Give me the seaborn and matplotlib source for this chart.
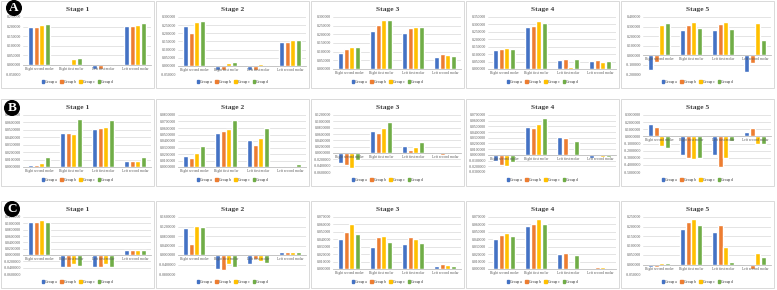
import numpy as np
import pandas as pd
import matplotlib.pyplot as plt
import seaborn as sns
from matplotlib.patches import Rectangle, Patch
from matplotlib.ticker import FuncFormatter

molars = ["Right second molar", "Right first molar", "Left first molar", "Left second molar"]
groups = ["Group a", "Group b", "Group c", "Group d"]
colors = ["#4472C4", "#ED7D31", "#FFC000", "#70AD47"]

# one list per group (a, b, c, d), values in molar order
A_stage1 = [[0.196, 0.000, -0.022, 0.205], [0.196, 0.000, -0.022, 0.205],
            [0.209, 0.030, 0.002, 0.206], [0.211, 0.035, 0.002, 0.216]]
A_stage2 = [[0.244, -0.026, -0.026, 0.148], [0.202, -0.026, -0.026, 0.148],
            [0.270, 0.016, 0.012, 0.160], [0.274, 0.024, 0.008, 0.160]]
A_stage3 = [[0.094, 0.217, 0.206, 0.067], [0.114, 0.255, 0.238, 0.086],
            [0.129, 0.283, 0.245, 0.079], [0.127, 0.285, 0.240, 0.073]]
A_stage4 = [[0.126, 0.281, 0.058, 0.055], [0.137, 0.290, 0.066, 0.060],
            [0.142, 0.321, 0.015, 0.046], [0.137, 0.312, 0.064, 0.055]]
A_stage5 = [[-0.158, 0.267, 0.263, -0.175], [-0.077, 0.319, 0.330, -0.084],
            [0.312, 0.351, 0.347, 0.340], [0.333, 0.284, 0.277, 0.161]]

B_stage1 = [[0.003, 0.0455, 0.0518, 0.0085], [0.003, 0.0464, 0.0531, 0.0085],
            [0.006, 0.0446, 0.0545, 0.0085], [0.0134, 0.0643, 0.0634, 0.0134]]
B_stage2 = [[0.017, 0.052, 0.042, 0.001], [0.014, 0.055, 0.034, 0.002],
            [0.021, 0.059, 0.045, 0.002], [0.032, 0.073, 0.060, 0.005]]
B_stage3 = [[-0.031, 0.071, 0.023, 0.000], [-0.037, 0.064, 0.011, -0.007],
            [-0.047, 0.080, 0.020, -0.004], [-0.023, 0.098, 0.036, 0.000]]
B_stage4 = [[-0.011, 0.049, 0.032, -0.006], [-0.017, 0.047, 0.029, -0.002],
            [-0.019, 0.055, 0.002, -0.003], [-0.013, 0.065, 0.025, -0.004]]
B_stage5 = [[0.180, -0.262, -0.267, 0.057], [0.138, -0.310, -0.424, 0.119],
            [-0.133, -0.314, -0.310, -0.110], [-0.157, -0.300, -0.062, -0.100]]

C_stage1 = [[0.105, -0.037, -0.037, 0.017], [0.105, -0.037, -0.037, 0.017],
            [0.109, -0.029, -0.029, 0.016], [0.103, -0.034, -0.037, 0.015]]
C_stage2 = [[0.114, -0.061, -0.036, 0.012], [0.046, -0.062, -0.016, 0.012],
            [0.124, -0.039, -0.024, 0.014], [0.116, -0.051, -0.032, 0.011]]
C_stage3 = [[0.041, 0.030, 0.033, 0.004], [0.050, 0.043, 0.043, 0.007],
            [0.060, 0.044, 0.041, 0.005], [0.047, 0.036, 0.035, 0.004]]
C_stage4 = [[0.041, 0.058, 0.020, 0.0005], [0.046, 0.061, 0.021, 0.003],
            [0.049, 0.067, 0.0005, 0.003], [0.045, 0.060, 0.019, 0.002]]
C_stage5 = [[-0.015, 0.189, 0.172, -0.010], [-0.015, 0.226, 0.209, -0.025],
            [0.010, 0.237, 0.091, 0.060], [0.008, 0.210, 0.012, 0.037]]

rows_data = {
    "A": [A_stage1, A_stage2, A_stage3, A_stage4, A_stage5],
    "B": [B_stage1, B_stage2, B_stage3, B_stage4, B_stage5],
    "C": [C_stage1, C_stage2, C_stage3, C_stage4, C_stage5],
}
# axis range per panel: (min, max, step, decimals)
axis_specs = {
    "A": [(-0.05, 0.25, 0.05, 6), (-0.05, 0.30, 0.05, 6), (0, 0.30, 0.05, 6),
          (0, 0.35, 0.05, 6), (-0.2, 0.4, 0.1, 6)],
    "B": [(0, 0.07, 0.01, 7), (0, 0.08, 0.01, 7), (-0.06, 0.12, 0.02, 7),
          (-0.03, 0.07, 0.01, 7), (-0.5, 0.3, 0.1, 7)],
    "C": [(-0.06, 0.12, 0.02, 7), (-0.08, 0.16, 0.04, 7), (0, 0.07, 0.01, 6),
          (0, 0.07, 0.01, 6), (-0.05, 0.25, 0.05, 6)],
}

sns.set_style("white")
plt.rcParams['font.family'] = ['Liberation Serif', 'DejaVu Serif']

W, H = 777, 290
fig = plt.figure(figsize=(W / 100, H / 100), dpi=100)
fig.patch.set_facecolor("white")

col_x = [1, 156, 311, 466, 621]
row_y = {"A": 1, "B": 99, "C": 201}
PW, PH = 153, 87


def fx(x):
    return x / W


def fy(y):
    return 1 - y / H


for row, panels in rows_data.items():
    py = row_y[row]
    for i, values in enumerate(panels):
        px = col_x[i]
        ymin, ymax, step, dec = axis_specs[row][i]

        # panel frame
        fig.add_artist(Rectangle((fx(px), fy(py + PH)), PW / W, PH / H,
                                 transform=fig.transFigure, fill=False,
                                 ec="#d9d9d9", lw=0.7))

        top = py + 16
        bottom = py + (73 if ymin < 0 else 68)
        ax = fig.add_axes([fx(px + 22), fy(bottom), (PW - 25) / W, (bottom - top) / H])

        recs = []
        for g, vals in zip(groups, values):
            for m, v in zip(molars, vals):
                recs.append((m, g, v))
        df = pd.DataFrame(recs, columns=["molar", "group", "value"])

        sns.barplot(data=df, x="molar", y="value", hue="group", order=molars,
                    hue_order=groups, palette=colors, width=0.68, gap=0.1,
                    ax=ax, legend=False, saturation=1)

        n = int(round((ymax - ymin) / step))
        yt = np.linspace(ymin, ymax, n + 1)
        ax.set_ylim(ymin, ymax)
        ax.set_yticks(yt)
        ax.yaxis.set_major_formatter(
            FuncFormatter(lambda v, _, d=dec: f"{round(v, 9) + 0.0:.{d}f}"))
        # gridlines behind the bars, tick labels in front of them
        for t in yt:
            ax.axhline(t, color="#d9d9d9", lw=0.5, zorder=0)
        ax.set_axisbelow(False)
        for s in ["left", "right", "top"]:
            ax.spines[s].set_visible(False)
        ax.spines["bottom"].set_position(("data", 0))
        ax.spines["bottom"].set_color("#bfbfbf")
        ax.spines["bottom"].set_linewidth(0.6)
        ax.tick_params(axis="both", length=0, pad=1.5, colors="#595959")
        ax.tick_params(axis="y", labelsize=2.8)
        ax.tick_params(axis="x", labelsize=2.6)
        ax.set_xlabel("")
        ax.set_ylabel("")
        ax.set_facecolor("none")

        fig.text(fx(px + PW / 2), fy(py + 8), f"Stage {i + 1}", ha="center",
                 va="center", fontsize=5.4, fontweight="bold", color="#404040")

        handles = [Patch(color=c) for c in colors]
        ax.legend(handles, groups, loc="center",
                  bbox_to_anchor=(fx(px + PW / 2), fy(py + 81)),
                  bbox_transform=fig.transFigure, ncol=4, fontsize=2.6,
                  frameon=False, handlelength=0.7, handleheight=0.7,
                  handletextpad=0.3, columnspacing=0.9)

# row labels
for lab, (x, y) in zip(["A", "B", "C"], [(14, 8), (12, 108), (12, 209)]):
    fig.text(fx(x), fy(y), lab, ha="center", va="center", color="white",
             fontsize=9.5, fontweight="bold",
             bbox=dict(boxstyle="circle,pad=0.1", fc="black", ec="black"))

fig.savefig("out.png", dpi=100)
